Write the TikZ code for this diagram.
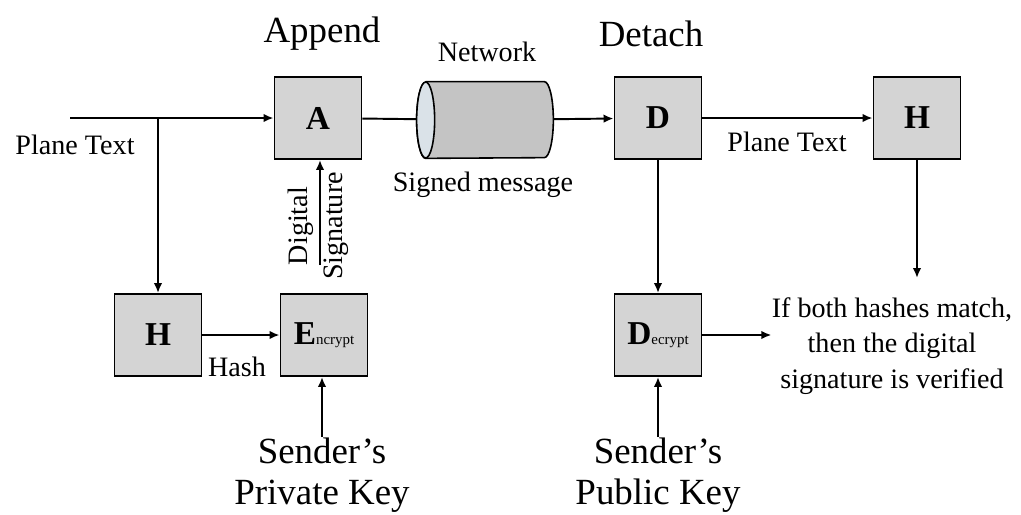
\documentclass[tikz,border=0pt]{standalone}
\usepackage{fontspec}
\setmainfont{Liberation Serif}
\usetikzlibrary{positioning,arrows.meta}
\definecolor{boxgray}{RGB}{212,212,212}
\definecolor{pipegray}{RGB}{196,196,196}
\definecolor{pipeend}{RGB}{218,226,232}
\newcommand{\subtxt}[1]{{\fontsize{8.5}{9}\selectfont\mdseries #1}}
\tikzset{
  >={Latex[length=2mm,width=1.7mm]},
  blk/.style={draw=black,fill=boxgray,line width=1.1pt,minimum width=17.4mm,
    minimum height=16.4mm,inner sep=0pt,font=\fontsize{19}{19}\selectfont\bfseries},
  pipe/.style={minimum width=27.2mm,minimum height=15.2mm,inner sep=0pt},
  pipeline/.style={draw=black,line width=0.9pt},
  flow/.style={->,line width=1.1pt},
  wire/.style={line width=1.1pt},
  biglbl/.style={font=\fontsize{21}{23.5}\selectfont,align=center,inner sep=0pt},
  lbl/.style={font=\fontsize{16}{20}\selectfont,align=center,inner sep=0pt},
}

\begin{document}
\begin{tikzpicture}[x=0.2mm,y=-0.2mm]
  \useasboundingbox (0,0) rectangle (1021,514);
  % sender side
  \node[blk] (A) at (318,118) {A};
  \node[blk] (H1) at (158,335) {H};
  \node[blk] (E) at (324,335) {E\subtxt{ncrypt}};
  \node[biglbl] (append) at (322,34) {Append};
  \node[lbl] (ptin) at (75,145) {Plane Text};
  \node[lbl] (hash) at (237,367) {Hash};
  \node[lbl,rotate=90] (sig) at (318,226) {Digital\\Signature};
  \node[biglbl] (priv) at (322,475) {Sender’s\\Private Key};
  \coordinate (in) at (70,118);
  \coordinate (sigfoot) at (320,265);
  % network pipe
  \node[pipe] (net) at (485,120) {};
  \draw[pipeline,fill=pipegray] ([xshift=1.8mm]net.north west)
    -- ([xshift=-1.8mm]net.north east)
    arc[start angle=90,end angle=-90,x radius=1.8mm,y radius=7.6mm]
    -- ([xshift=1.8mm]net.south west)
    arc[start angle=270,end angle=90,x radius=1.8mm,y radius=7.6mm];
  \draw[pipeline,fill=pipeend] ([xshift=1.8mm]net.west)
    ellipse[x radius=1.8mm,y radius=7.6mm];
  \node[lbl] (netlbl) at (487,52) {Network};
  \node[lbl] (signed) at (483,185) {Signed message};
  % receiver side
  \node[blk] (D) at (658,118) {D};
  \node[blk] (H2) at (917,118) {H};
  \node[blk] (Dc) at (658,335) {D\subtxt{ecrypt}};
  \node[biglbl] (detach) at (651,34) {Detach};
  \node[lbl] (ptout) at (787,142) {Plane Text};
  \node[lbl] (res) at (892,346) {If both hashes match,\\then the digital\\signature is verified};
  \node[biglbl] (pub) at (658,475) {Sender’s\\Public Key};
  \coordinate (cmp) at (917,278);

  \draw[flow] (in) -- (A);
  \draw[flow] (H1 |- in) -- (H1);
  \draw[flow] (H1) -- (E);
  \draw[flow] (sigfoot) -- (sigfoot |- A.south);
  \draw[flow] (priv.north) -- (priv.north |- E.south);
  \draw[wire] (A) -- (net);
  \draw[flow] (net) -- (D);
  \draw[flow] (D) -- (H2);
  \draw[flow] (H2) -- (cmp);
  \draw[flow] (D) -- (Dc);
  \draw[flow] (Dc.east) -- (Dc.east -| res.west);
  \draw[flow] (pub.north) -- (pub.north |- Dc.south);
\end{tikzpicture}
\end{document}
